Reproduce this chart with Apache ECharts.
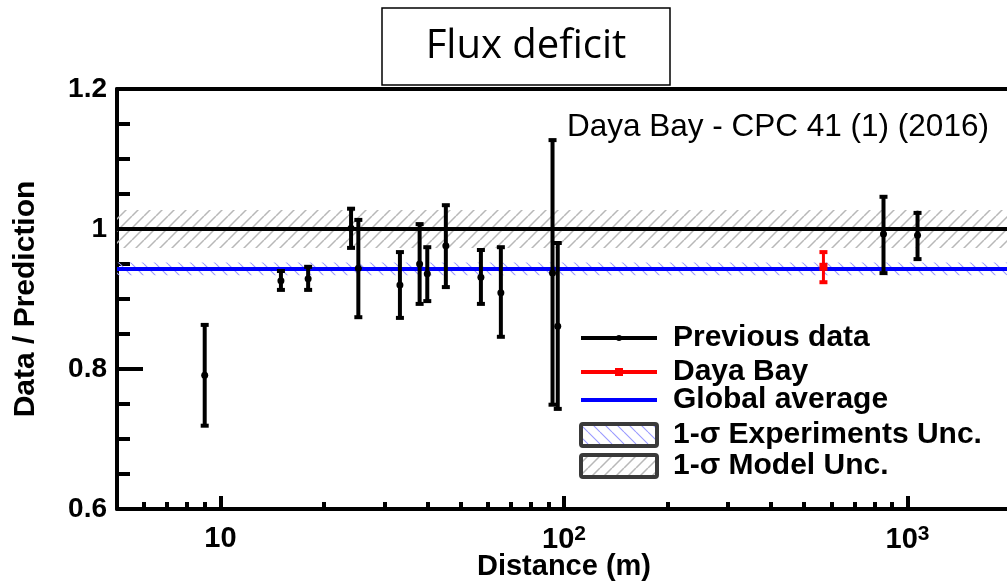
<!DOCTYPE html>
<html>
<head>
<meta charset="utf-8">
<script src="https://cdn.jsdelivr.net/npm/echarts@6/dist/echarts.min.js"></script>
<style>
html,body{margin:0;padding:0;background:#fff;}
#chart{width:1007px;height:583px;}
</style>
</head>
<body>
<div id="chart"></div>
<script>
// ---- data ----
const prevX  = [9, 15, 18, 24, 25.2, 33.3, 38, 40, 45.3, 57.3, 65.5, 92.6, 95.9, 851, 1069];
const prevY  = [0.791, 0.926, 0.929, 1.001, 0.944, 0.920, 0.950, 0.936, 0.976, 0.931, 0.909, 0.937, 0.861, 0.993, 0.991];
const prevLo = [0.719, 0.913, 0.913, 0.973, 0.874, 0.873, 0.893, 0.897, 0.917, 0.893, 0.846, 0.749, 0.743, 0.937, 0.957];
const prevHi = [0.863, 0.940, 0.946, 1.029, 1.013, 0.967, 1.007, 0.974, 1.034, 0.970, 0.974, 1.127, 0.980, 1.046, 1.023];
const dybX = [569];
const dybY = [0.946];
const dybLo = [0.924];
const dybHi = [0.967];
const globalAvg = 0.943;
const expUnc = 0.009;
const modelCenter = 1.0;
const modelUnc = 0.027;
const xRange = [5, 2000];
const yRange = [0.6, 1.2];
const xMajorTicks = [10, 100, 1000];
const xMinorTicks = [6, 7, 8, 9, 20, 30, 40, 50, 60, 70, 80, 90, 200, 300, 400, 500, 600, 700, 800, 900, 2000];
const legendNames = ['Previous data', 'Daya Bay', 'Global average', '1-σ Experiments Unc.', '1-σ Model Unc.'];

// ---- hatch patterns ----
function hatch(color, dir, size, lw) {
  const c = document.createElement('canvas');
  c.width = size; c.height = size;
  const g = c.getContext('2d');
  g.strokeStyle = color; g.lineWidth = lw;
  g.beginPath();
  for (let k = -1; k <= 1; k++) {
    if (dir === '/') { g.moveTo(k*size, size); g.lineTo(k*size+size, 0); }
    else { g.moveTo(k*size, 0); g.lineTo(k*size+size, size); }
  }
  g.stroke();
  return {image: c, repeat: 'repeat'};
}
const grayHatch = hatch('#b8b8b8', '/', 12, 1.5);
const blueHatch = hatch('#9a9aff', '\\', 12, 1.1);

const FONT = '"Liberation Sans", Arial, sans-serif';

function bandRender(fill) {
  return function (params, api) {
    const p0 = api.coord([xRange[0], api.value(0)]);
    const p1 = api.coord([xRange[1], api.value(1)]);
    return {type: 'rect', shape: {x: p0[0], y: p1[1], width: p1[0]-p0[0], height: p0[1]-p1[1]},
            style: {fill: fill}, silent: true};
  };
}
function errRender(color, square) {
  return function (params, api) {
    const pc = api.coord([api.value(0), api.value(1)]);
    const pl = api.coord([api.value(0), api.value(2)]);
    const ph = api.coord([api.value(0), api.value(3)]);
    const ch = [
      {type: 'line', shape: {x1: pc[0], y1: pl[1], x2: pc[0], y2: ph[1]}, style: {stroke: color, lineWidth: square ? 3 : 4}},
      {type: 'rect', shape: {x: pc[0]-4, y: ph[1]-2, width: 8, height: 4}, style: {fill: color}},
      {type: 'rect', shape: {x: pc[0]-4, y: pl[1]-2, width: 8, height: 4}, style: {fill: color}}
    ];
    if (square) ch.push({type: 'rect', shape: {x: pc[0]-4, y: pc[1]-4, width: 8, height: 8}, style: {fill: color}});
    else ch.push({type: 'circle', shape: {cx: pc[0], cy: pc[1], r: 3.5}, style: {fill: color}});
    return {type: 'group', children: ch};
  };
}

const chart = echarts.init(document.getElementById('chart'), null, {renderer: 'canvas'});

const legendX0 = 581, legendX1 = 657, legendTextX = 673;
const legendRowsY = [338, 372, 400, 435, 466];
const legendGraphics = [
  {type: 'line', shape: {x1: legendX0, y1: legendRowsY[0], x2: legendX1, y2: legendRowsY[0]}, style: {stroke: '#000', lineWidth: 4}},
  {type: 'circle', shape: {cx: (legendX0+legendX1)/2, cy: legendRowsY[0], r: 3}, style: {fill: '#000'}},
  {type: 'line', shape: {x1: legendX0, y1: legendRowsY[1], x2: legendX1, y2: legendRowsY[1]}, style: {stroke: '#ff0000', lineWidth: 4}},
  {type: 'rect', shape: {x: (legendX0+legendX1)/2-4, y: legendRowsY[1]-4, width: 8, height: 8}, style: {fill: '#ff0000'}},
  {type: 'line', shape: {x1: legendX0, y1: legendRowsY[2], x2: legendX1, y2: legendRowsY[2]}, style: {stroke: '#0000ff', lineWidth: 4}},
  {type: 'rect', shape: {x: legendX0, y: legendRowsY[3]-11, width: legendX1-legendX0, height: 22, r: 2}, style: {fill: blueHatch, stroke: '#3a3a3a', lineWidth: 4}},
  {type: 'rect', shape: {x: legendX0, y: legendRowsY[4]-11, width: legendX1-legendX0, height: 22, r: 2}, style: {fill: grayHatch, stroke: '#3a3a3a', lineWidth: 4}}
];
legendNames.forEach((n, i) => {
  legendGraphics.push({type: 'text', x: legendTextX, y: legendRowsY[i],
    style: {text: n, font: 'bold 30px ' + FONT, fill: '#000', textVerticalAlign: 'middle', textAlign: 'left'}});
});

const option = {
  backgroundColor: '#fff',
  animation: false,
  grid: {left: 117, top: 89, right: -4, bottom: 74, containLabel: false, outerBoundsMode: 'none'},
  xAxis: [
    {
      type: 'log', logBase: 10, min: xRange[0], max: xRange[1], position: 'bottom',
      name: 'Distance (m)', nameLocation: 'middle', nameGap: 43, nameMoveOverlap: false,
      nameTextStyle: {fontFamily: FONT, fontWeight: 'bold', fontSize: 29, color: '#000'},
      axisLine: {show: true, onZero: false, lineStyle: {color: '#000', width: 4}},
      axisTick: {show: true, inside: true, length: 13, lineStyle: {color: '#000', width: 4}, customValues: xMajorTicks},
      minorTick: {show: false},
      axisLabel: {
        show: true, margin: 15, customValues: xMajorTicks, color: '#000',
        formatter: function (v) {
          const e = Math.round(Math.log10(v));
          return e === 1 ? '{b|10}' : '{b|10}{s|' + e + '}';
        },
        rich: {
          b: {fontFamily: FONT, fontWeight: 'bold', fontSize: 29, color: '#000'},
          s: {fontFamily: FONT, fontWeight: 'bold', fontSize: 21, color: '#000', verticalAlign: 'top', padding: [0, 0, 10, 0]}
        }
      },
      splitLine: {show: false}
    },
    {
      type: 'log', logBase: 10, min: xRange[0], max: xRange[1], position: 'bottom',
      axisLine: {show: false},
      axisTick: {show: true, inside: true, length: 7, lineStyle: {color: '#000', width: 4}, customValues: xMinorTicks},
      axisLabel: {show: false},
      splitLine: {show: false}
    },
    {
      type: 'log', logBase: 10, min: xRange[0], max: xRange[1], position: 'top',
      axisLine: {show: true, onZero: false, lineStyle: {color: '#000', width: 4}},
      axisTick: {show: false}, axisLabel: {show: false}, splitLine: {show: false}
    }
  ],
  yAxis: {
    type: 'value', min: yRange[0], max: yRange[1], interval: 0.2,
    name: 'Data / Prediction', nameLocation: 'middle', nameGap: 76, nameRotate: 90, nameMoveOverlap: false,
    nameTextStyle: {fontFamily: FONT, fontWeight: 'bold', fontSize: 30, color: '#000'},
    axisLine: {show: true, onZero: false, lineStyle: {color: '#000', width: 4}},
    axisTick: {show: true, inside: true, length: 26, lineStyle: {color: '#000', width: 4}},
    minorTick: {show: true, splitNumber: 4, length: 13, lineStyle: {color: '#000', width: 4}},
    axisLabel: {
      margin: 10, color: '#000', fontFamily: FONT, fontWeight: 'bold', fontSize: 28,
      formatter: function (v) { return Math.abs(v - 1) < 1e-9 ? '1' : v.toFixed(1); }
    },
    splitLine: {show: false}
  },
  series: [
    {
      name: '1-σ Model Unc.', type: 'custom', xAxisIndex: 0, z: 1,
      renderItem: bandRender(grayHatch), clip: true,
      encode: {y: [0, 1]},
      data: [[modelCenter - modelUnc, modelCenter + modelUnc]]
    },
    {
      name: '1-σ Experiments Unc.', type: 'custom', xAxisIndex: 0, z: 1,
      renderItem: bandRender(blueHatch), clip: true,
      encode: {y: [0, 1]},
      data: [[globalAvg - expUnc, globalAvg + expUnc]]
    },
    {
      name: 'Model', type: 'line', xAxisIndex: 0, z: 2, showSymbol: false, silent: true,
      lineStyle: {color: '#000', width: 4},
      data: [[xRange[0], modelCenter], [xRange[1], modelCenter]]
    },
    {
      name: 'Global average', type: 'line', xAxisIndex: 0, z: 2, showSymbol: false, silent: true,
      lineStyle: {color: '#0000ff', width: 4},
      data: [[xRange[0], globalAvg], [xRange[1], globalAvg]]
    },
    {
      name: 'Previous data', type: 'custom', xAxisIndex: 0, z: 3,
      renderItem: errRender('#000', false),
      encode: {x: 0, y: [1, 2, 3]},
      data: prevX.map((x, i) => [x, prevY[i], prevLo[i], prevHi[i]])
    },
    {
      name: 'Daya Bay', type: 'custom', xAxisIndex: 0, z: 3,
      renderItem: errRender('#ff0000', true),
      encode: {x: 0, y: [1, 2, 3]},
      data: dybX.map((x, i) => [x, dybY[i], dybLo[i], dybHi[i]])
    }
  ],
  graphic: [
    {type: 'rect', z: 10, shape: {x: 382, y: 8, width: 288, height: 77}, style: {fill: '#fff', stroke: '#000', lineWidth: 1.5}},
    {type: 'text', z: 11, x: 526, y: 47, style: {text: 'Flux deficit', font: '40px "Open Sans", "Noto Sans", sans-serif', fill: '#000', textAlign: 'center', textVerticalAlign: 'middle'}},
    {type: 'text', z: 11, x: 567, y: 127, style: {text: 'Daya Bay - CPC 41 (1) (2016)', font: '31.5px ' + FONT, fill: '#000', textAlign: 'left', textVerticalAlign: 'middle'}},
    {type: 'group', z: 11, children: legendGraphics}
  ]
};
chart.setOption(option);
</script>
</body>
</html>
